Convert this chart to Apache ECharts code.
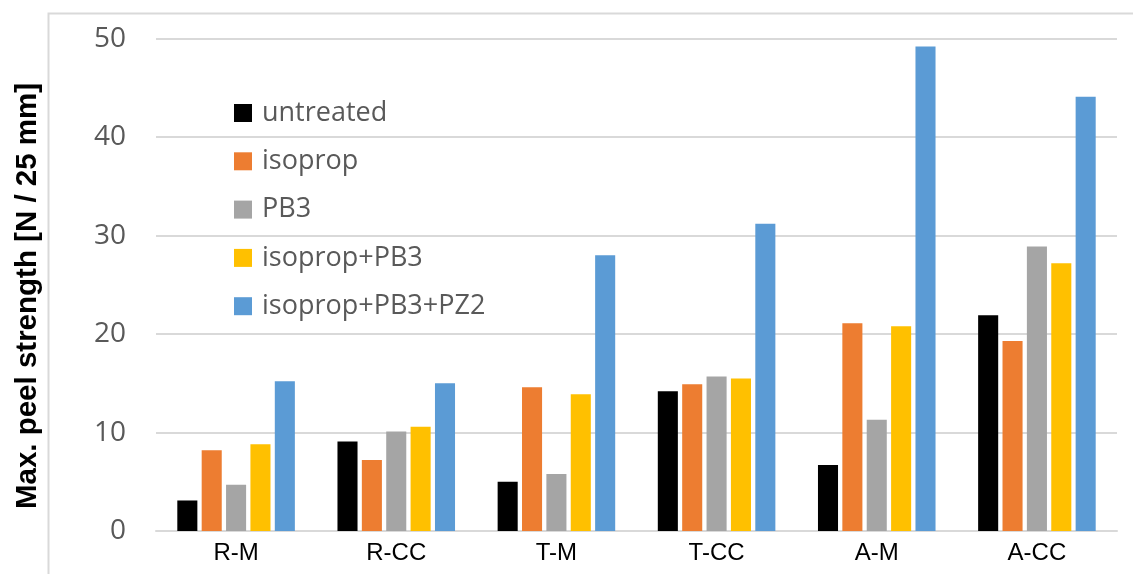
<!DOCTYPE html>
<html>
<head>
<meta charset="utf-8">
<script src="https://cdn.jsdelivr.net/npm/echarts@6/dist/echarts.min.js"></script>
<style>html,body{margin:0;padding:0;background:#fff;}#c{width:1133px;height:574px;}</style>
</head>
<body>
<div id="c"></div>
<script>
const categories = ['R-M', 'R-CC', 'T-M', 'T-CC', 'A-M', 'A-CC'];
const seriesNames = ['untreated', 'isoprop', 'PB3', 'isoprop+PB3', 'isoprop+PB3+PZ2'];
const untreated = [3.1, 9.1, 5.0, 14.2, 6.7, 21.9];
const isoprop = [8.2, 7.2, 14.6, 14.9, 21.1, 19.3];
const pb3 = [4.7, 10.1, 5.8, 15.7, 11.3, 28.9];
const isopropPb3 = [8.8, 10.6, 13.9, 15.5, 20.8, 27.2];
const isopropPb3Pz2 = [15.2, 15.0, 28.0, 31.2, 49.2, 44.1];
const yTicks = [0, 10, 20, 30, 40, 50];
const colors = ['#000000', '#ED7D31', '#A5A5A5', '#FFC000', '#5B9BD5'];
const values = [untreated, isoprop, pb3, isopropPb3, isopropPb3Pz2];

const chart = echarts.init(document.getElementById('c'), null, {renderer: 'canvas'});
chart.setOption({
  animation: false,
  backgroundColor: '#ffffff',
  color: colors,
  graphic: [
    {type: 'rect', left: 46, top: 11, shape: {x: 0, y: 0, width: 1100, height: 600},
     style: {fill: 'none', stroke: '#d9d9d9', lineWidth: 2}, silent: true, z: -10},
    {type: 'text', x: 28, y: 296, rotation: Math.PI / 2,
     style: {text: 'Max. peel strength [N / 25 mm]', font: 'bold 29.5px "Liberation Sans", Arial, sans-serif',
             fill: '#000000', align: 'center', verticalAlign: 'middle'}}
  ],
  legend: {
    orient: 'vertical', left: 234, top: 98, padding: 0,
    itemWidth: 18, itemHeight: 18, itemGap: 18.3,
    icon: 'rect',
    data: seriesNames,
    textStyle: {fontFamily: '"Open Sans", sans-serif', fontSize: 27, lineHeight: 30, color: '#595959', padding: [0, 0, 0, 5]}
  },
  grid: {left: 156, right: 16, top: 38.7, bottom: 43, containLabel: false},
  xAxis: {
    type: 'category', data: categories,
    axisLine: {lineStyle: {color: '#d9d9d9', width: 2}},
    axisTick: {show: false},
    axisLabel: {fontFamily: '"Liberation Sans", Arial, sans-serif', fontSize: 24, color: '#000000', margin: 10}
  },
  yAxis: {
    type: 'value', min: yTicks[0], max: yTicks[yTicks.length - 1], interval: 10,
    axisLine: {show: false}, axisTick: {show: false},
    splitLine: {lineStyle: {color: '#d9d9d9', width: 2}},
    axisLabel: {fontFamily: '"Open Sans", sans-serif', fontSize: 28, color: '#595959', margin: 30}
  },
  series: seriesNames.map((n, i) => ({
    name: n, type: 'bar', data: values[i],
    barCategoryGap: '26.6%', barGap: '21.5%',
    itemStyle: {color: colors[i]}
  }))
});
</script>
</body>
</html>
